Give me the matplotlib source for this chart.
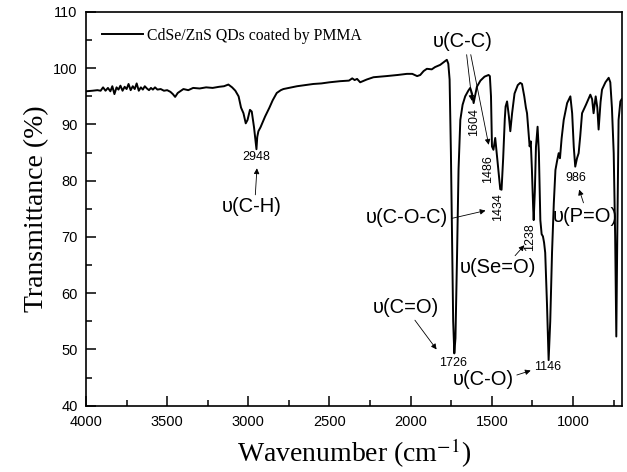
import matplotlib
matplotlib.use("Agg")
import matplotlib.pyplot as plt
from matplotlib.ticker import MultipleLocator

# FTIR spectrum
wavenumber = [4000, 3960, 3930, 3910, 3895, 3880, 3865, 3850, 3838, 3825, 3812, 3800,
              3788, 3775, 3762, 3750, 3738, 3725, 3712, 3700, 3688, 3675, 3662, 3650,
              3638, 3625, 3612, 3600, 3588, 3575, 3560, 3540, 3520, 3500, 3480, 3465,
              3451, 3435, 3420, 3400, 3370, 3340, 3300, 3260, 3220, 3180, 3150, 3123,
              3100, 3080,
              3060, 3045, 3030, 3016, 3005, 2990, 2979, 2965, 2955, 2950, 2945, 2938,
              2925, 2910, 2897, 2870, 2850, 2825, 2800, 2784, 2750, 2700, 2650, 2600,
              2550, 2500, 2434, 2380, 2360, 2345, 2330, 2311, 2270, 2229, 2150, 2080,
              2023, 1990, 1960, 1941, 1920, 1900, 1870, 1850, 1818, 1790, 1777, 1768,
              1760, 1752, 1745, 1738, 1731, 1724, 1714, 1705, 1694, 1680, 1664, 1645,
              1633, 1622, 1612, 1604, 1592, 1570, 1545, 1520, 1512, 1505, 1499, 1490,
              1479, 1470, 1460, 1448, 1440, 1430, 1420, 1415, 1406, 1395, 1386, 1375,
              1360, 1340, 1325, 1314, 1300, 1290, 1283, 1275, 1267, 1260, 1253, 1245,
              1242, 1235, 1228, 1218, 1210, 1201, 1193, 1185, 1178, 1171, 1160, 1150,
              1140, 1129, 1118, 1108, 1098, 1088, 1080, 1070, 1057, 1036, 1016, 1005,
              995, 986, 975, 965, 955, 944, 920, 893, 882, 873, 860, 850,
              842, 830, 821, 800, 780, 770, 760, 749, 740, 733, 727, 719,
              708, 700]
transmittance = [95.9, 96.0, 96.1, 96.0, 96.6, 96.0, 96.5, 95.9, 96.8, 95.4, 96.6, 96.2,
                 96.9, 96.0, 96.7, 96.3, 97.2, 96.1, 96.8, 96.3, 97.3, 96.0, 96.6, 96.2,
                 96.8, 96.4, 96.1, 96.5, 96.2, 96.6, 96.2, 96.3, 96.0, 96.1, 95.8, 95.4,
                 94.9, 95.6, 95.9, 96.3, 96.1, 96.5, 96.4, 96.6, 96.5, 96.7, 96.8, 97.1,
                 96.6, 96.0,
                 95.0, 93.0, 92.0, 90.2, 90.8, 92.6, 92.3, 89.5, 87.0, 85.6, 87.8, 88.8,
                 89.5, 90.5, 91.4, 93.0, 94.3, 95.6, 96.1, 96.3, 96.5, 96.8, 97.0, 97.2,
                 97.3, 97.5, 97.7, 97.8, 98.2, 97.9, 98.1, 97.5, 98.0, 98.4, 98.6, 98.8,
                 99.0, 99.0, 98.6, 98.8, 99.5, 99.9, 99.8, 100.2, 100.6, 101.2, 101.5, 100.8,
                 98.0, 85.0, 70.0, 55.0, 49.3, 52.0, 67.0, 82.0, 90.8, 93.5, 95.0, 96.0,
                 96.5, 95.5, 93.8, 95.0, 96.7, 97.8, 98.5, 98.8, 98.6, 95.0, 86.1, 85.5,
                 87.6, 85.0, 82.0, 78.5, 78.4, 84.0, 91.0, 93.2, 94.1, 91.5, 88.8, 92.0,
                 95.5, 97.0, 97.4, 97.2, 95.0, 93.0, 92.0, 89.0, 86.1, 87.0, 82.0, 75.0,
                 73.0, 78.0, 86.0, 89.6, 85.0, 73.0, 70.5, 70.1, 69.0, 67.2, 58.0, 48.1,
                 55.0, 67.2, 76.0, 81.9, 83.5, 84.9, 84.0, 87.5, 90.8, 93.8, 95.0, 92.0,
                 86.0, 82.5, 84.0, 84.9, 88.0, 92.0, 93.5, 95.3, 94.5, 92.0, 95.0, 93.0,
                 89.1, 94.0, 96.2, 97.5, 98.3, 97.5, 93.0, 84.9, 70.0, 52.3, 70.0, 90.8,
                 94.1, 94.5]

# band labels: text, (x, y), rotation
peak_labels = ["2948", "1604", "1486", "1434", "1238", "1726", "1146", "986"]
peak_pos = [(2952, 84.3), (1608, 90.5), (1522, 82.1), (1460, 75.4),
            (1263, 70.0), (1738, 47.6), (1158, 46.9), (980, 80.5)]
peak_rot = [0, 90, 90, 90, 90, 0, 0, 0]

# assignments: text, text position, arrow tail, arrow tip
modes = ["υ(C-H)", "υ(C-O-C)", "υ(Se=O)", "υ(C=O)", "υ(C-O)", "υ(P=O)"]
mode_pos = [(2977, 75.4), (2021, 73.4), (1460, 64.5), (2027, 57.4), (1553, 44.6), (924, 73.6)]
arrow_from = [(2958, 77.0), (1762, 73.2), (1368, 66.3), (1984, 55.6), (1362, 45.3), (930, 75.6)]
arrow_to = [(2946, 82.7), (1522, 74.8), (1288, 68.9), (1830, 49.6), (1244, 46.4), (967, 78.9)]

plt.rcParams['mathtext.fontset'] = 'stix'
sans = 'Liberation Sans'
serif = 'Liberation Serif'
arrow = dict(arrowstyle='-|>', lw=0.6, color='k', mutation_scale=8)

fig = plt.figure(figsize=(6.27, 4.72), dpi=100)
ax = fig.add_axes([0.1372, 0.1405, 0.8548, 0.8341])

ax.plot(wavenumber, transmittance, color='black', lw=1.4, label='CdSe/ZnS QDs coated by PMMA')
ax.set_xlim(4000, 698)
ax.set_ylim(40, 110)
ax.xaxis.set_major_locator(MultipleLocator(500))
ax.xaxis.set_minor_locator(MultipleLocator(250))
ax.yaxis.set_major_locator(MultipleLocator(10))
ax.yaxis.set_minor_locator(MultipleLocator(5))
ax.tick_params(which='both', direction='in', top=False, right=False, width=1.1)
ax.tick_params(which='major', length=7)
ax.tick_params(which='minor', length=4)
ax.tick_params(axis='x', pad=7)
ax.tick_params(axis='y', pad=6)
for s in ax.spines.values():
    s.set_linewidth(1.2)
for lab in ax.get_xticklabels() + ax.get_yticklabels():
    lab.set_family(sans)
    lab.set_fontsize(10.5)

ax.set_xlabel('Wavenumber (cm$^{-1}$)', family=serif, fontsize=20, labelpad=5)
ax.set_ylabel('Transmittance (%)', family=serif, fontsize=20, labelpad=3)

ax.legend(loc='upper left', frameon=False, handlelength=2.6, handletextpad=0.3,
          prop={'family': serif, 'size': 11.3}, borderaxespad=0.6)

# C-C label with two arrows
ax.text(1682, 104.7, "υ(C-C)", family=sans, fontsize=14.5, ha='center', va='center')
ax.annotate("", xy=(1620, 93.7), xytext=(1657, 102.9), arrowprops=arrow)
ax.annotate("", xy=(1516, 85.9), xytext=(1633, 102.9), arrowprops=arrow)

for txt, (x, y), rot in zip(peak_labels, peak_pos, peak_rot):
    ax.text(x, y, txt, family=sans, fontsize=9, rotation=rot, ha='center', va='center')

for txt, (x, y), a, b in zip(modes, mode_pos, arrow_from, arrow_to):
    ax.text(x, y, txt, family=sans, fontsize=14.5, ha='center', va='center')
    ax.annotate("", xy=b, xytext=a, arrowprops=arrow)

fig.savefig('out.png', dpi=100)
